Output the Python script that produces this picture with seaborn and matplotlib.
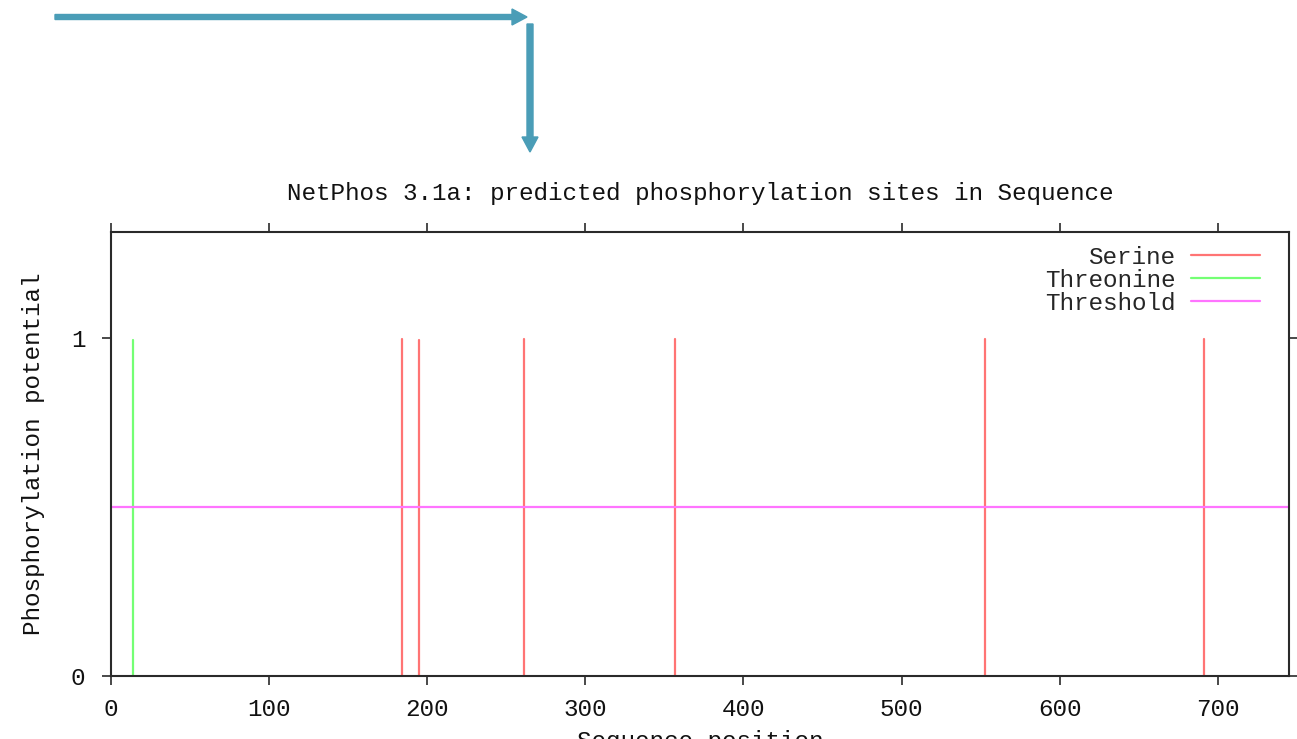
import numpy as np
import pandas as pd
import matplotlib
matplotlib.use("Agg")
import matplotlib.pyplot as plt
from matplotlib.patches import FancyArrow
from matplotlib.lines import Line2D
from matplotlib.transforms import IdentityTransform
import seaborn as sns

# ---- data ----
serine_pos = [184, 195, 261, 357, 553, 691]
serine_val = [0.998, 0.994, 0.998, 0.998, 0.996, 0.998]
threonine_pos = [14]
threonine_val = [0.995]
threshold = 0.5
seq_length = 745
x_ticks = [0, 100, 200, 300, 400, 500, 600, 700]
y_ticks = [0, 1]

title = "NetPhos 3.1a: predicted phosphorylation sites in Sequence"
xlabel = "Sequence position"
ylabel = "Phosphorylation potential"

c_ser = "#ff7474"
c_thr = "#74ff74"
c_thr_line = "#ff74ff"
axis_c = "#2a2a2a"
arrow_c = "#4a9db7"

sns.set_theme(style="white")
plt.rcParams["font.family"] = ["Liberation Mono", "DejaVu Sans Mono"]
FS = 17.5

# long-format impulses: each site is a vertical segment from 0 to its value
rows = []
for res, pos, val in (("Serine", serine_pos, serine_val), ("Threonine", threonine_pos, threonine_val)):
    for i, (p, v) in enumerate(zip(pos, val)):
        rows.append({"residue": res, "site": f"{res}{i}", "pos": p, "y": 0.0})
        rows.append({"residue": res, "site": f"{res}{i}", "pos": p, "y": v})
df = pd.DataFrame(rows)

fig = plt.figure(figsize=(12.97, 7.39), dpi=100)
ax = fig.add_axes([111 / 1297, 63 / 739, 1178 / 1297, 444 / 739])

sns.lineplot(data=df, x="pos", y="y", hue="residue", units="site", estimator=None,
             palette={"Serine": c_ser, "Threonine": c_thr}, linewidth=1.6,
             legend=False, ax=ax, sort=False)
ax.axhline(threshold, color=c_thr_line, linewidth=1.6)

ax.set_xlim(0, seq_length)
ax.set_ylim(0, 1.313)
ax.set_xticks(x_ticks)
ax.set_yticks(y_ticks)
ax.set_xticklabels([str(t) for t in x_ticks])
ax.set_yticklabels([str(t) for t in y_ticks])

for s in ax.spines.values():
    s.set_visible(True)
    s.set_color(axis_c)
    s.set_linewidth(1.5)

ax.tick_params(axis="both", which="major", direction="out", length=6.5, width=1.2,
               color=axis_c, labelsize=FS, labelcolor="#111111",
               top=True, right=True, bottom=True, left=True,
               labeltop=False, labelright=False)
ax.tick_params(axis="x", pad=9)
ax.tick_params(axis="y", pad=12)

ax.set_title(title, fontsize=FS, pad=23, color="#111111")
ax.set_xlabel(xlabel, fontsize=FS, color="#111111", va="top")
ax.xaxis.set_label_coords(0.5, -0.122)
ax.set_ylabel(ylabel, fontsize=FS, color="#111111", va="center")
ax.yaxis.set_label_coords(-0.066, 0.5)

handles = [Line2D([], [], color=c_ser, lw=1.6),
           Line2D([], [], color=c_thr, lw=1.6),
           Line2D([], [], color=c_thr_line, lw=1.6)]
leg = ax.legend(handles, ["Serine", "Threonine", "Threshold"], loc="upper right",
                frameon=False, markerfirst=False, fontsize=FS, handlelength=2.85,
                handletextpad=0.65, labelspacing=0.0, borderaxespad=0.0,
                bbox_to_anchor=(1 - 19 / 1178, 1 - 4 / 444))

# annotation arrows (figure pixel coordinates, origin bottom-left)
H = 739
fig.add_artist(FancyArrow(55, H - 17, 472, 0, width=5, head_width=16, head_length=15,
                          length_includes_head=True, color=arrow_c, transform=IdentityTransform()))
fig.add_artist(FancyArrow(530, H - 24, 0, -128, width=6, head_width=16, head_length=15,
                          length_includes_head=True, color=arrow_c, transform=IdentityTransform()))

fig.savefig("out.png", dpi=100)
